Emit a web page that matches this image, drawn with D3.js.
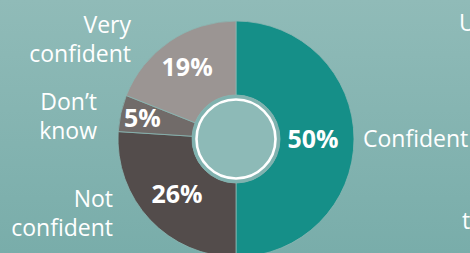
<!DOCTYPE html>
<html><head><meta charset="utf-8">
<script src="https://cdn.jsdelivr.net/npm/d3@7"></script>
<style>html,body{margin:0;padding:0;overflow:hidden;}svg{display:block;}</style>
</head><body>
<script>
const categories = ["Confident", "Not confident", "Don\u2019t know", "Very confident"];
const values = [50, 26, 5, 19];
const valueLabels = ["50%", "26%", "5%", "19%"];
const colors = ["#158f88", "#534c4b", "#716b69", "#9b9593"];
const labelRadius = [77, 81, 96, 87];

const W = 470, H = 253;
const cx = 236, cy = 139, rOuter = 118, rInner = 44;

const svg = d3.select("body").append("svg").attr("width", W).attr("height", H);
const defs = svg.append("defs");
const grad = defs.append("linearGradient").attr("id","bg").attr("x1",0).attr("y1",0).attr("x2",0).attr("y2",1);
grad.append("stop").attr("offset","0%").attr("stop-color","#90bbb8");
grad.append("stop").attr("offset","100%").attr("stop-color","#79adaa");
svg.append("rect").attr("width",W).attr("height",H).attr("fill","url(#bg)");

const pie = d3.pie().sort(null).value(d => d);
const arcs = pie(values);
const arc = d3.arc().innerRadius(rInner).outerRadius(rOuter);
const g = svg.append("g").attr("transform", `translate(${cx},${cy})`);
g.selectAll("path").data(arcs).join("path")
  .attr("d", arc)
  .attr("fill", (d,i) => colors[i])
  .attr("stroke", "#8ab6b3").attr("stroke-width", 0.8);

g.append("circle").attr("r", rInner).attr("fill", "#80b2af");
g.append("circle").attr("r", 39.5).attr("fill", "#8dbab7").attr("stroke", "#fff").attr("stroke-width", 2.6);

const font = "'Open Sans', sans-serif";
g.selectAll("text.pct").data(arcs).join("text")
  .attr("class","pct")
  .attr("transform", (d,i) => {
    const a = (d.startAngle + d.endAngle) / 2, r = labelRadius[i];
    return `translate(${Math.sin(a)*r},${-Math.cos(a)*r})`;
  })
  .attr("text-anchor","middle").attr("dy","0.36em")
  .attr("font-family", font).attr("font-weight", 700).attr("font-size", 25)
  .attr("fill","#fff").text((d,i) => valueLabels[i]);

// category labels
const catLayout = [
  {x: 363, y: 147, anchor: "start", lines: ["Confident"]},
  {x: 113, y: 207, anchor: "end", lines: ["Not", "confident"]},
  {x: 97, y: 110, anchor: "end", lines: ["Don\u2019t", "know"]},
  {x: 131, y: 33, anchor: "end", lines: ["Very", "confident"]}
];
categories.forEach((c, i) => {
  const L = catLayout[i];
  const t = svg.append("text").attr("x", L.x).attr("y", L.y)
    .attr("text-anchor", L.anchor).attr("font-family", font).attr("font-size", 23).attr("fill", "#fff");
  L.lines.forEach((ln, j) => t.append("tspan").attr("x", L.x).attr("dy", j ? 29 : 0).text(ln));
});

// partially visible text at right edge (cut off in the reference too)
svg.append("text").attr("x", 459).attr("y", 31).attr("font-family", font).attr("font-size", 23).attr("fill","#fff").text("U");
svg.append("text").attr("x", 462).attr("y", 229).attr("font-family", font).attr("font-size", 23).attr("fill","#fff").text("t");
</script>
</body></html>
